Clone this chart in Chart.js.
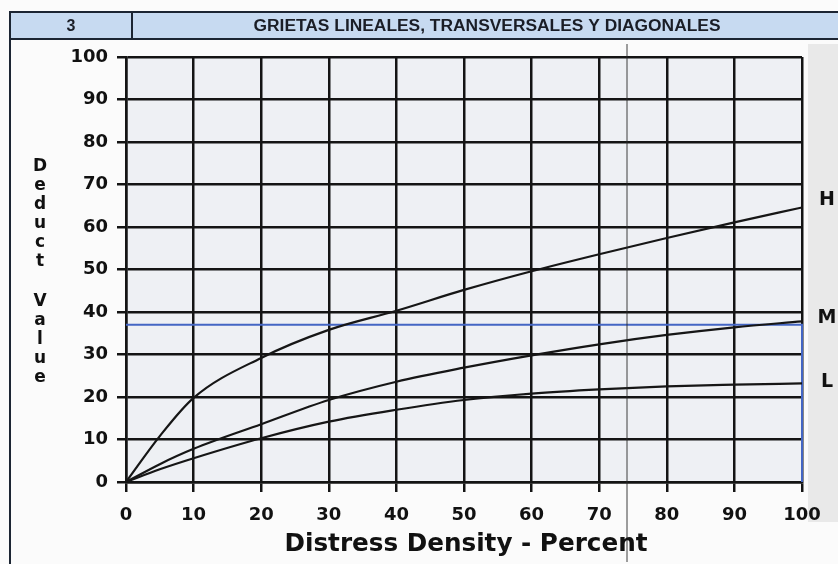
<!DOCTYPE html>
<html>
<head>
<meta charset="utf-8">
<script src="https://cdn.jsdelivr.net/npm/chart.js@4/dist/chart.umd.min.js"></script>
<style>
  html, body { margin: 0; padding: 0; background: #fbfbfb; }
  #wrap { width: 838px; height: 564px; }
</style>
</head>
<body>
<div id="wrap"><canvas id="c" width="838" height="564"></canvas></div>
<script>
// Deduct value curves for linear, transverse and diagonal cracking
const densities    = [0, 5, 10, 20, 30, 40, 50, 60, 70, 80, 90, 100];
const highDeduct   = [0, 10.8, 19.8, 29.2, 35.8, 40.3, 45.2, 49.6, 53.6, 57.4, 61.1, 64.6];
const mediumDeduct = [0, 4.2, 7.8, 13.6, 19.3, 23.6, 26.9, 29.8, 32.4, 34.6, 36.4, 37.8];
const lowDeduct    = [0, 3.0, 5.6, 10.3, 14.2, 17.0, 19.3, 20.8, 21.8, 22.5, 22.9, 23.2];
const severityLabels = ['H', 'M', 'L'];

// reference line drawn in blue: deduct value read at 100 % density
const markDensity = [0, 100, 100];
const markDeduct  = [37, 37, 0];

const tickValues = [0, 10, 20, 30, 40, 50, 60, 70, 80, 90, 100];

const headerNumber = '3';
const headerTitle  = 'GRIETAS LINEALES, TRANSVERSALES Y DIAGONALES';
const yTitle = 'Deduct Value';
const xTitle = 'Distress Density - Percent';

const heavyFont = '"DejaVu Sans", "Liberation Sans", Arial, sans-serif';

const toPoints = (xs, ys) => xs.map((x, i) => ({ x: x, y: ys[i] }));

const curveStyle = {
  borderColor: '#161616',
  borderWidth: 2.2,
  pointRadius: 0,
  fill: false,
  cubicInterpolationMode: 'monotone'
};

// page furniture: header band, frame, plot background, labels
const sheetPlugin = {
  id: 'sheet',
  beforeDraw(chart) {
    const ctx = chart.ctx;
    const a = chart.chartArea;
    ctx.save();
    ctx.fillStyle = '#fbfbfb';
    ctx.fillRect(0, 0, chart.width, chart.height);

    // grey edge of the sheet at the right
    ctx.fillStyle = '#e9e9e9';
    ctx.fillRect(808, 44, 30, 478);

    // plot cells
    ctx.fillStyle = '#eef0f4';
    ctx.fillRect(a.left, a.top, a.right - a.left, a.bottom - a.top);

    // header band
    ctx.fillStyle = '#c7daf1';
    ctx.fillRect(10, 12, 828, 27);
    ctx.strokeStyle = '#1c2533';
    ctx.lineWidth = 2;
    ctx.beginPath();
    ctx.moveTo(838, 12); ctx.lineTo(10, 12); ctx.lineTo(10, 564);
    ctx.moveTo(10, 39); ctx.lineTo(838, 39);
    ctx.moveTo(132, 12); ctx.lineTo(132, 39);
    ctx.stroke();

    ctx.fillStyle = '#1a1d26';
    ctx.textBaseline = 'middle';
    ctx.textAlign = 'center';
    ctx.font = 'bold 16px "Liberation Sans", Arial, sans-serif';
    ctx.fillText(headerNumber, 71, 27);
    const w = ctx.measureText(headerTitle).width;
    ctx.save();
    ctx.translate(487, 27);
    ctx.scale(467 / w, 1);
    ctx.fillText(headerTitle, 0, 0);
    ctx.restore();
    ctx.restore();
  },
  afterDraw(chart) {
    const ctx = chart.ctx;
    ctx.save();

    // fold line running down the sheet
    ctx.strokeStyle = 'rgba(40,40,40,0.75)';
    ctx.lineWidth = 1.2;
    ctx.beginPath();
    ctx.moveTo(627, 44); ctx.lineTo(627, 562);
    ctx.stroke();

    ctx.fillStyle = '#111';
    ctx.textAlign = 'center';
    ctx.textBaseline = 'middle';

    // severity labels at the right end of each curve
    ctx.font = 'bold 19px ' + heavyFont;
    const labelY = [200, 318, 382];
    severityLabels.forEach((s, i) => ctx.fillText(s, 827, labelY[i]));

    // stacked vertical axis title
    ctx.font = 'bold 17px ' + heavyFont;
    let y = 167;
    yTitle.split('').forEach(ch => {
      if (ch === ' ') { y += 21; return; }
      ctx.fillText(ch, 40, y);
      y += 19;
    });

    // horizontal axis title
    ctx.font = 'bold 24px ' + heavyFont;
    const tw = ctx.measureText(xTitle).width;
    ctx.save();
    ctx.translate(466, 545);
    ctx.scale(363 / tw, 1);
    ctx.fillText(xTitle, 0, 0);
    ctx.restore();
    ctx.restore();
  }
};

new Chart(document.getElementById('c'), {
  type: 'line',
  data: {
    datasets: [
      Object.assign({ label: 'H', data: toPoints(densities, highDeduct) }, curveStyle),
      Object.assign({ label: 'M', data: toPoints(densities, mediumDeduct) }, curveStyle),
      Object.assign({ label: 'L', data: toPoints(densities, lowDeduct) }, curveStyle),
      {
        label: 'mark',
        data: toPoints(markDensity, markDeduct),
        borderColor: '#4466c4',
        borderWidth: 2,
        pointRadius: 0,
        tension: 0,
        fill: false,
        clip: false
      }
    ]
  },
  options: {
    responsive: false,
    devicePixelRatio: 1,
    animation: false,
    layout: { padding: { top: 57, right: 36, left: 0, bottom: 0 } },
    plugins: { legend: { display: false }, tooltip: { enabled: false }, title: { display: false } },
    scales: {
      x: {
        type: 'linear',
        min: 0, max: 100,
        afterBuildTicks(scale) { scale.ticks = tickValues.map(v => ({ value: v })); },
        afterFit(scale) { scale.height = 82; },
        grid: { color: '#141414', lineWidth: 2.5, tickLength: 10, drawOnChartArea: true },
        border: { color: '#141414', width: 2.5 },
        ticks: {
          color: '#111',
          padding: 13,
          maxRotation: 0,
          font: { family: heavyFont, size: 18, weight: 'bold' }
        }
      },
      y: {
        type: 'linear',
        min: 0, max: 100,
        afterBuildTicks(scale) { scale.ticks = tickValues.map(v => ({ value: v })); },
        afterFit(scale) { scale.width = 126; },
        grid: { color: '#141414', lineWidth: 2.5, tickLength: 9 },
        border: { color: '#141414', width: 2.5 },
        ticks: {
          color: '#111',
          padding: 9,
          font: { family: heavyFont, size: 18, weight: 'bold' }
        }
      }
    }
  },
  plugins: [sheetPlugin]
});
</script>
</body>
</html>
